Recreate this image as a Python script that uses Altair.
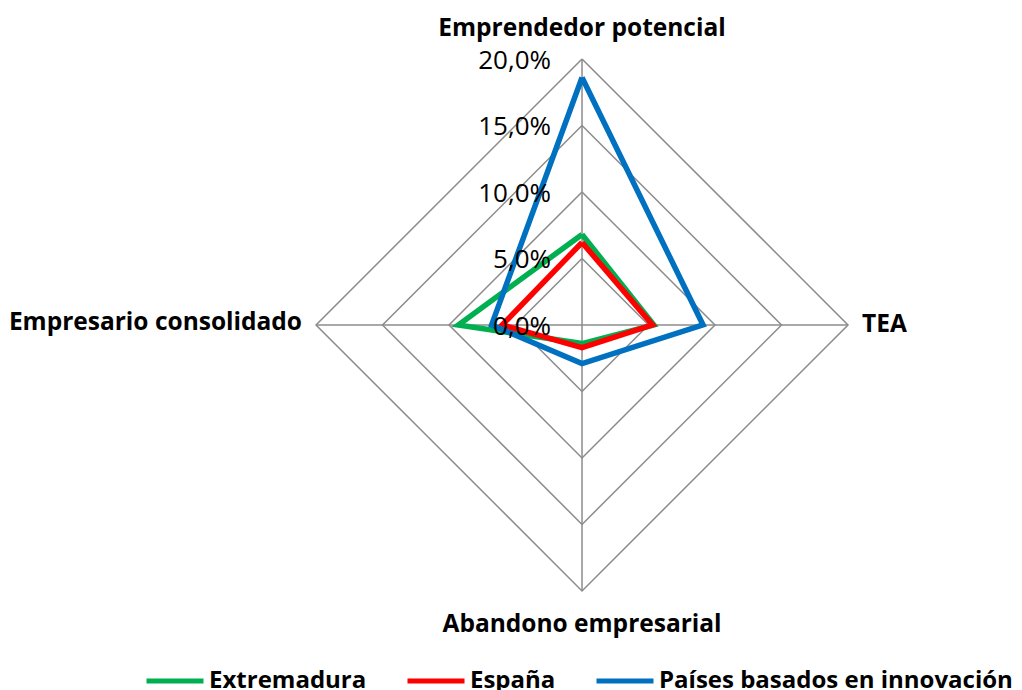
import altair as alt
import pandas as pd

categories = ["Emprendedor potencial", "TEA", "Abandono empresarial", "Empresario consolidado"]
angles = [90, 0, 270, 180]
series = ["Extremadura", "España", "Países basados en innovación"]
extremadura = [6.8, 5.4, 1.4, 9.3]
espana = [6.2, 5.3, 1.7, 6.0]
innovacion = [18.6, 9.1, 2.9, 6.8]
colors = ["#00B050", "#FF0000", "#0070C0"]
tick_levels = [0, 5, 10, 15, 20]
tick_labels = ["0,0%", "5,0%", "10,0%", "15,0%", "20,0%"]
grid_levels = [5, 10, 15, 20]

FONT = "Open Sans"
GRID = "#8C8C8C"
BOLD_SIZE = 24.5

rows = []
for s, vals in zip(series, [extremadura, espana, innovacion]):
    for i in range(len(categories) + 1):
        k = i % len(categories)
        rows.append({"serie": s, "cat": categories[k], "angle": angles[k], "value": vals[k], "ord": i})
df_series = pd.DataFrame(rows)

grid_rows = []
for lv in grid_levels:
    for i in range(len(categories) + 1):
        k = i % len(categories)
        grid_rows.append({"level": lv, "angle": angles[k], "value": lv, "ord": i})
df_grid = pd.DataFrame(grid_rows)

df_spokes = pd.DataFrame({"cat": categories, "angle": angles, "value": [max(grid_levels)] * 4})
df_ticks = pd.DataFrame({"label": tick_labels, "angle": [90] * 5, "value": tick_levels})

xs = alt.Scale(domain=[-43.16, 32.48])
ys = alt.Scale(domain=[-27.45, 23.83])

def pos(base):
    return base.transform_calculate(
        x="datum.value * cos(datum.angle * PI / 180)",
        y="datum.value * sin(datum.angle * PI / 180)",
    )

X = alt.X("x:Q", scale=xs, axis=None)
Y = alt.Y("y:Q", scale=ys, axis=None)

grid = pos(alt.Chart(df_grid)).mark_line(color=GRID, strokeWidth=1.5).encode(
    x=X, y=Y, detail="level:N", order="ord:Q"
)

spokes = pos(alt.Chart(df_spokes)).transform_calculate(x0="0", y0="0").mark_rule(
    color=GRID, strokeWidth=1.5
).encode(x=X, y=Y, x2="x0:Q", y2="y0:Q")

lines = pos(alt.Chart(df_series)).mark_line(strokeWidth=5.5, strokeJoin="miter").encode(
    x=X,
    y=Y,
    order="ord:Q",
    color=alt.Color(
        "serie:N",
        scale=alt.Scale(domain=series, range=colors),
        sort=series,
        legend=alt.Legend(
            title=None,
            orient="none",
            legendX=136,
            legendY=642,
            direction="horizontal",
            columns=3,
            symbolType="stroke",
            symbolSize=3249,
            symbolStrokeWidth=5,
            labelFont=FONT,
            labelFontSize=24,
            labelFontWeight="bold",
            labelColor="#000000",
            labelLimit=0,
            labelOffset=3,
            columnPadding=30,
        ),
    ),
)

ticks = pos(alt.Chart(df_ticks)).mark_text(
    font=FONT, fontSize=26, align="right", baseline="middle", dx=-31, dy=2, color="#000000"
).encode(x=X, y=Y, text="label:N")

label_specs = [
    (categories[0], dict(align="center", baseline="middle", dx=0, dy=-30)),
    (categories[1], dict(align="left", baseline="middle", dx=14, dy=0)),
    (categories[2], dict(align="center", baseline="middle", dx=0, dy=34)),
    (categories[3], dict(align="right", baseline="middle", dx=-14, dy=-2)),
]
cat_layers = []
for name, kw in label_specs:
    cat_layers.append(
        pos(alt.Chart(df_spokes)).transform_filter(alt.datum.cat == name).mark_text(
            font=FONT, fontSize=BOLD_SIZE, fontWeight="bold", color="#000000", **kw
        ).encode(x=X, y=Y, text="cat:N")
    )

chart = alt.layer(grid, spokes, lines, ticks, *cat_layers).properties(
    width=1006, height=682, padding=0, autosize=alt.AutoSizeParams(type="none")
).configure_view(stroke=None)

chart.save("out.html", embed_options={"renderer": "svg", "actions": False})
